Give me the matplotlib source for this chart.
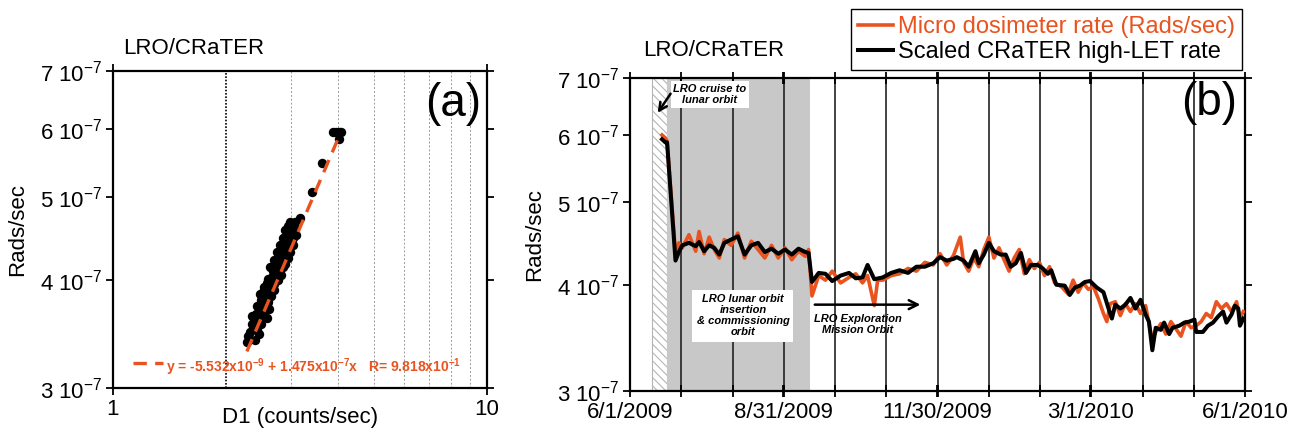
import numpy as np
import matplotlib
matplotlib.use("Agg")
import matplotlib.pyplot as plt
from matplotlib.ticker import FixedLocator, NullLocator

plt.rcParams["font.family"] = ["Liberation Sans", "DejaVu Sans"]
plt.rcParams["mathtext.fontset"] = "custom"
plt.rcParams["mathtext.rm"] = "Liberation Sans"
plt.rcParams["mathtext.it"] = "Liberation Sans:italic"
plt.rcParams["mathtext.bf"] = "Liberation Sans:bold"
plt.rcParams["hatch.linewidth"] = 0.8

ORANGE = "#E9531F"

# ---------------- data ----------------
# (a) CRaTER D1 rate vs micro dosimeter rate (rate in 1e-7 rads/sec)
d1_counts = [2.28, 2.39, 2.33, 2.37, 2.42, 2.38, 2.44, 2.48, 2.41, 2.47, 2.53, 2.58,
             2.45, 2.52, 2.58, 2.62, 2.49, 2.55, 2.60, 2.52, 2.60, 2.66, 2.58, 2.64,
             2.70, 2.66, 2.72, 2.68, 2.75, 2.80, 2.72, 2.78, 2.84, 2.76, 2.82, 2.88,
             2.80, 2.86, 2.91, 2.84, 2.90, 2.95, 2.88, 2.94, 3.00, 2.92, 2.98, 3.03,
             2.96, 3.02, 3.05, 3.04, 3.17, 3.40, 3.63, 3.87, 3.95, 4.03, 4.08, 4.02,
             2.30, 2.45, 2.35, 2.50, 2.36, 2.55, 2.42, 2.60, 2.47, 2.64, 2.54, 2.70,
             2.60, 2.76, 2.63, 2.82, 2.70, 2.88, 2.74, 2.93, 2.79, 2.97, 2.84, 3.02,
             2.88, 3.08, 2.93, 3.07, 2.98]
dose_a = [3.39, 3.41, 3.48, 3.52, 3.50, 3.58, 3.60, 3.56, 3.66, 3.65, 3.68, 3.62,
          3.72, 3.74, 3.76, 3.71, 3.80, 3.82, 3.85, 3.88, 3.92, 3.90, 3.97, 3.98,
          3.96, 4.04, 4.02, 4.10, 4.08, 4.12, 4.16, 4.18, 4.15, 4.23, 4.24, 4.22,
          4.30, 4.31, 4.28, 4.37, 4.38, 4.35, 4.44, 4.45, 4.42, 4.50, 4.52, 4.48,
          4.57, 4.58, 4.55, 4.63, 4.73, 5.06, 5.47, 5.94, 5.95, 5.94, 5.94, 5.84,
          3.45, 3.47, 3.56, 3.62, 3.64, 3.70, 3.74, 3.78, 3.86, 3.84, 3.93, 3.90,
          4.02, 4.00, 4.14, 4.06, 4.22, 4.18, 4.32, 4.25, 4.40, 4.32, 4.48, 4.40,
          4.58, 4.52, 4.62, 4.67, 4.67]
fit_a, fit_b = -5.532e-9, 1.475e-7
fit_x = [2.28, 3.98]

# (b) time series, days since 6/1/2009 (rates in 1e-7 rads/sec)
day_micro = [19, 21, 22, 27, 29, 31, 35, 39, 41, 44, 47, 50, 53, 56, 60, 64, 68, 72, 76,
             80, 84, 88, 92, 96, 100, 104, 106, 108, 112, 116, 120, 125, 130, 134, 138,
             141, 145, 147, 150, 155, 160, 165, 170, 175, 180, 184, 188, 192, 196, 198,
             201, 204, 207, 210, 213, 216, 219, 222, 225, 228, 231, 234, 237, 240, 243,
             246, 249, 252, 256, 260, 263, 266, 269, 272, 275, 278, 281, 283, 285, 288,
             291, 294, 297, 300, 303, 306, 308, 310, 312, 315, 318, 321, 324, 327, 330,
             333, 336, 339, 342, 345, 348, 351, 354, 357, 360, 362, 364]
micro_rate = [6.00, 5.95, 5.90, 4.35, 4.48, 4.42, 4.58, 4.38, 4.62, 4.35, 4.55, 4.40,
              4.30, 4.52, 4.45, 4.60, 4.30, 4.50, 4.40, 4.30, 4.45, 4.30, 4.42, 4.28,
              4.38, 4.32, 4.40, 3.88, 4.10, 4.05, 4.15, 4.02, 4.08, 4.12, 4.02, 4.10,
              3.78, 4.05, 4.05, 4.10, 4.12, 4.18, 4.15, 4.25, 4.22, 4.35, 4.22, 4.33,
              4.55, 4.25, 4.15, 4.30, 4.20, 4.40, 4.55, 4.30, 4.42, 4.28, 4.15, 4.30,
              4.40, 4.12, 4.28, 4.18, 4.25, 4.10, 4.20, 4.02, 3.98, 3.90, 4.05, 3.92,
              4.02, 3.95, 3.98, 3.85, 3.70, 3.62, 3.80, 3.82, 3.68, 3.80, 3.72, 3.80,
              3.70, 3.78, 3.60, 3.45, 3.52, 3.60, 3.50, 3.62, 3.55, 3.48, 3.62, 3.56,
              3.58, 3.62, 3.70, 3.66, 3.82, 3.75, 3.80, 3.72, 3.82, 3.65, 3.72]
day_crater = [19, 21, 22, 27, 29, 31, 35, 39, 41, 44, 47, 50, 53, 56, 60, 64, 68, 72, 76,
              80, 84, 88, 92, 96, 100, 104, 106, 108, 112, 116, 120, 125, 130, 134, 138,
              141, 145, 150, 155, 160, 165, 170, 175, 180, 184, 188, 192, 194, 198, 201,
              205, 207, 210, 213, 216, 220, 223, 226, 229, 232, 235, 238, 242, 245, 248,
              250, 253, 258, 261, 264, 267, 270, 273, 277, 281, 284, 286, 288, 291, 294,
              297, 300, 303, 306, 308, 310, 312, 315, 317, 320, 322, 326, 329, 332, 335,
              336, 340, 343, 346, 349, 352, 354, 357, 359, 361, 362, 364]
crater_rate = [5.93, 5.88, 5.88, 4.27, 4.37, 4.45, 4.48, 4.44, 4.49, 4.38, 4.45, 4.42,
               4.34, 4.48, 4.52, 4.56, 4.34, 4.45, 4.48, 4.37, 4.41, 4.35, 4.40, 4.34,
               4.41, 4.37, 4.36, 4.03, 4.13, 4.12, 4.04, 4.10, 4.13, 4.07, 4.08, 4.22,
               4.06, 4.08, 4.13, 4.16, 4.13, 4.20, 4.20, 4.24, 4.31, 4.27, 4.29, 4.31,
               4.27, 4.20, 4.38, 4.24, 4.34, 4.48, 4.38, 4.34, 4.34, 4.20, 4.24, 4.36,
               4.13, 4.22, 4.22, 4.18, 4.12, 4.16, 4.00, 3.99, 3.89, 3.97, 3.99, 4.03,
               4.04, 3.97, 3.92, 3.75, 3.65, 3.79, 3.75, 3.79, 3.86, 3.75, 3.84, 3.69,
               3.62, 3.35, 3.56, 3.54, 3.61, 3.50, 3.56, 3.58, 3.61, 3.62, 3.64, 3.52,
               3.52, 3.58, 3.61, 3.67, 3.72, 3.61, 3.69, 3.78, 3.75, 3.58, 3.65]

date_labels = ["6/1/2009", "8/31/2009", "11/30/2009", "3/1/2010", "6/1/2010"]
date_label_days = [0, 91, 182, 273, 365]
cruise_span = [13, 22]
commission_span = [22, 107]

y_ticks = [3e-7, 4e-7, 5e-7, 6e-7, 7e-7]
y_ticklabels = [r"%d 10$^{-7}$" % v for v in [3, 4, 5, 6, 7]]

# ---------------- figure ----------------
fig = plt.figure(figsize=(13, 4.36), dpi=100)
W, H = 1300, 436
ax_a = fig.add_axes([113 / W, 1 - 388 / H, 374 / W, 317 / H])
ax_b = fig.add_axes([630 / W, 1 - 391 / H, 615 / W, 313 / H])

for ax in (ax_a, ax_b):
    ax.set_yscale("log")
    ax.set_ylim(3e-7, 7e-7)
    ax.yaxis.set_major_locator(FixedLocator(y_ticks))
    ax.yaxis.set_minor_locator(NullLocator())
    ax.set_yticklabels(y_ticklabels, fontsize=16)
    for s in ax.spines.values():
        s.set_linewidth(1.6)
    ax.tick_params(axis="both", which="both", direction="out", width=1.3, length=5,
                   right=True, top=True, pad=3)
    ax.set_ylabel("Rads/sec", fontsize=16)

# ---- panel (a) ----
ax_a.set_xscale("log")
ax_a.set_xlim(1, 10)
ax_a.xaxis.set_major_locator(FixedLocator([1, 10]))
ax_a.xaxis.set_minor_locator(NullLocator())
ax_a.set_xticklabels(["1", "10"], fontsize=16)
ax_a.axvline(2, color="black", ls=(0, (1, 1)), lw=1.2, zorder=1)
for g in range(3, 10):
    ax_a.axvline(g, color="#999999", ls=(0, (2, 2)), lw=0.7, zorder=1)

ax_a.scatter(d1_counts, np.array(dose_a) * 1e-7, s=46, color="black", zorder=3,
             linewidths=0)
fx = np.array(fit_x)
ax_a.plot(fx, fit_a + fit_b * fx, color=ORANGE, lw=2.4, ls=(0, (4, 2.5)), zorder=4)

ax_a.plot([0.053, 0.134], [0.079, 0.079], transform=ax_a.transAxes, color=ORANGE,
          lw=2.4, ls=(0, (4, 2.5)))
ax_a.text(0.142, 0.067,
          r"y = -5.532x10$^{\mathbf{-9}}$ + 1.475x10$^{\mathbf{-7}}$x   R= 9.818x10$^{\mathbf{-1}}$",
          transform=ax_a.transAxes, color=ORANGE, fontsize=10, fontweight="bold",
          ha="left", va="center")
ax_a.text(0.985, 0.895, "(a)", transform=ax_a.transAxes, fontsize=33,
          ha="right", va="center")
ax_a.set_xlabel("D1 (counts/sec)", fontsize=16)
ax_a.xaxis.set_label_coords(0.5, -0.06)
ax_a.yaxis.set_label_coords(-0.227, 0.5)
fig.text(123 / W, 1 - 48 / H, "LRO/CRaTER", fontsize=16, va="center", ha="left")

# ---- panel (b) ----
ax_b.set_xlim(0, 365)
month_ticks = np.linspace(0, 365, 13)
ax_b.xaxis.set_major_locator(FixedLocator(date_label_days))
ax_b.xaxis.set_minor_locator(FixedLocator(month_ticks))
ax_b.set_xticklabels(date_labels, fontsize=16)
ax_b.tick_params(axis="x", which="both", direction="inout", length=8, pad=4)

ax_b.axvspan(*cruise_span, facecolor="white", edgecolor="#b5b5b5", hatch="\\\\\\\\",
             lw=0.8, zorder=0.5)
ax_b.axvspan(*commission_span, facecolor="#c8c8c8", edgecolor="none", zorder=0.5)
for d in month_ticks[1:-1]:
    ax_b.axvline(d, color="#222222", lw=1.2, zorder=1)

ax_b.plot(day_micro, np.array(micro_rate) * 1e-7, color=ORANGE, lw=2.6, zorder=3,
          label="Micro dosimeter rate (Rads/sec)")
ax_b.plot(day_crater, np.array(crater_rate) * 1e-7, color="black", lw=2.9, zorder=4,
          label="Scaled CRaTER high-LET rate")

leg = ax_b.legend(loc="upper right", bbox_to_anchor=(1242 / W, 1 - 9 / H),
                  bbox_transform=fig.transFigure, fontsize=17, frameon=True,
                  fancybox=False, edgecolor="black", framealpha=1, borderpad=0.3,
                  labelspacing=0.12, handlelength=1.5, handletextpad=0.2,
                  borderaxespad=0)
leg.get_frame().set_linewidth(1.0)
leg.get_texts()[0].set_color(ORANGE)

note = dict(fontsize=8, fontweight="bold", fontstyle="italic", ha="center",
            va="center", linespacing=1.15)
ax_b.text(47.5, 6.70e-7, "LRO cruise to\nlunar orbit", zorder=6,
          bbox=dict(facecolor="white", edgecolor="none", pad=2), **note)
ax_b.annotate("", xy=(15.5, 6.33e-7), xytext=(25, 6.75e-7), zorder=6,
              arrowprops=dict(arrowstyle="->", color="black", lw=1.8,
                              mutation_scale=14))
ax_b.text(67, 3.68e-7, "LRO lunar orbit\ninsertion\n& commissioning\norbit", zorder=6,
          bbox=dict(facecolor="white", edgecolor="none", pad=3), **note)
ax_b.annotate("", xy=(174, 3.79e-7), xytext=(108, 3.79e-7), zorder=6,
              arrowprops=dict(arrowstyle="->", color="black", lw=1.8,
                              mutation_scale=16))
ax_b.text(135, 3.59e-7, "LRO Exploration\nMission Orbit", zorder=6, **note)
ax_b.text(0.987, 0.92, "(b)", transform=ax_b.transAxes, fontsize=33,
          ha="right", va="center")
ax_b.yaxis.set_label_coords(-0.138, 0.5)
fig.text(643 / W, 1 - 50 / H, "LRO/CRaTER", fontsize=16, va="center", ha="left")

fig.savefig("out.png", dpi=100, facecolor="white")
